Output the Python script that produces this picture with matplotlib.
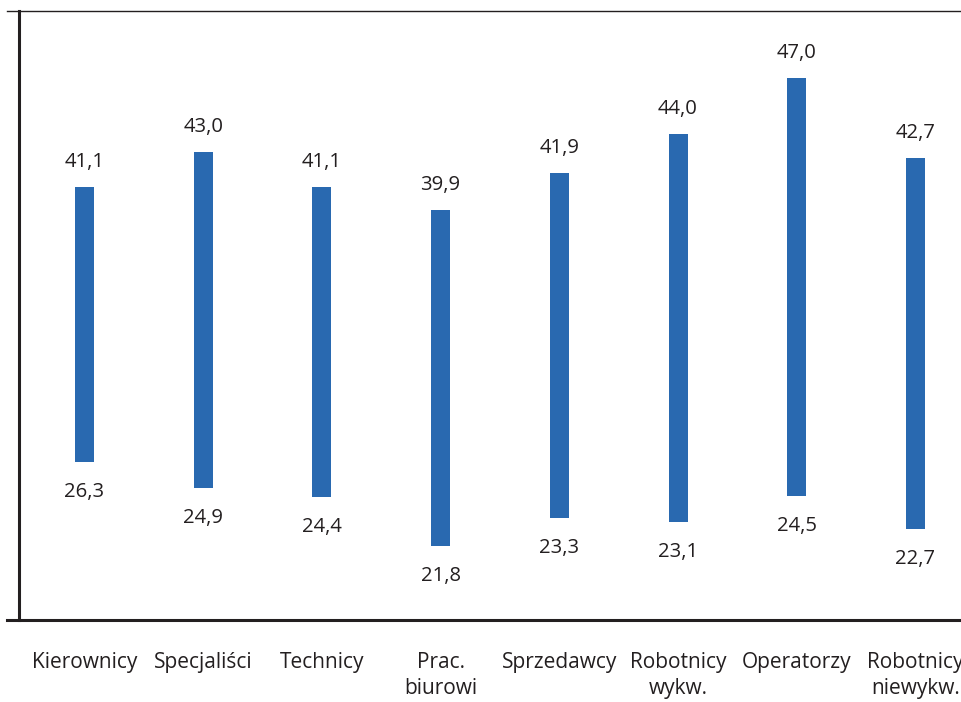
import matplotlib.pyplot as plt
import numpy as np
from matplotlib.lines import Line2D

# kategorie zawodowe i wartości (min / max)
categories = ["Kierownicy", "Specjaliści", "Technicy", "Prac.\nbiurowi",
              "Sprzedawcy", "Robotnicy\nwykw.", "Operatorzy", "Robotnicy\nniewykw."]
low_values = [26.3, 24.9, 24.4, 21.8, 23.3, 23.1, 24.5, 22.7]
high_values = [41.1, 43.0, 41.1, 39.9, 41.9, 44.0, 47.0, 42.7]

BAR_COLOR = "#2969b0"
TEXT_COLOR = "#231f20"


def fmt(v):
    return f"{v:.1f}".replace(".", ",")


def main():
    plt.rcParams["font.family"] = ["Open Sans", "DejaVu Sans"]
    fig = plt.figure(figsize=(9.61, 7.02), dpi=100)
    W, H = 961, 702
    ax = fig.add_axes([18.5 / W, (H - 620) / H, 1 - 18.5 / W, (620 - 11) / H])

    x = np.arange(len(categories))
    low = np.array(low_values)
    high = np.array(high_values)
    ax.bar(x, high - low, bottom=low, width=0.16, color=BAR_COLOR)

    for xi, lo, hi in zip(x, low, high):
        ax.annotate(fmt(hi), (xi, hi), xytext=(0, 14.4), textcoords="offset points",
                    ha="center", va="baseline", fontsize=14.6, color=TEXT_COLOR)
        ax.annotate(fmt(lo), (xi, lo), xytext=(0, -25.2), textcoords="offset points",
                    ha="center", va="baseline", fontsize=14.6, color=TEXT_COLOR)

    ax.set_xlim(-0.556, 7.384)
    ax.set_ylim(17.8, 50.6)
    ax.set_yticks([])
    ax.set_xticks(x)
    ax.set_xticklabels(categories, fontsize=15, color=TEXT_COLOR, linespacing=1.3)
    ax.tick_params(axis="x", length=0, pad=23)

    for s in ["top", "bottom", "right"]:
        ax.spines[s].set_visible(False)
    ax.spines["left"].set_linewidth(2.2)
    ax.spines["left"].set_color(TEXT_COLOR)

    # linie górna i dolna wystające poza oś pionową
    fig.add_artist(Line2D([7 / W, 1], [(H - 11) / H] * 2, color=TEXT_COLOR, lw=1.0))
    fig.add_artist(Line2D([7 / W, 1], [(H - 620) / H] * 2, color=TEXT_COLOR, lw=2.2))

    fig.savefig("out.png", dpi=100)


if __name__ == "__main__":
    main()
